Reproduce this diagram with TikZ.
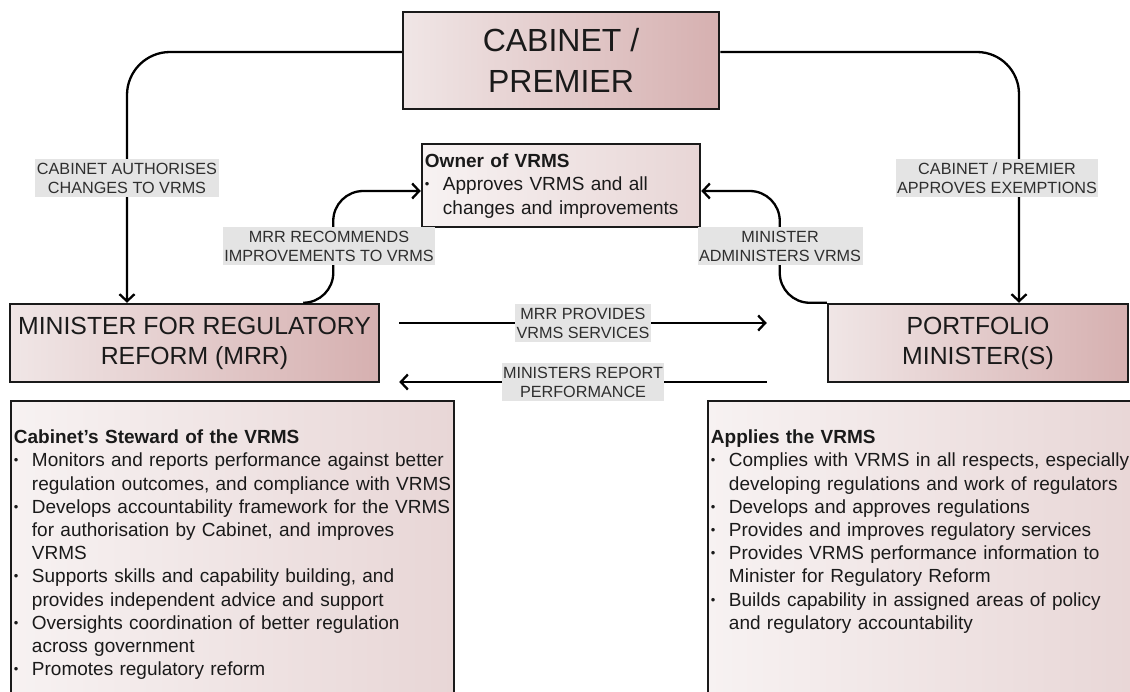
\documentclass[tikz,border=0pt]{standalone}
\usepackage{fontspec}
\setmainfont{Liberation Sans}
\usetikzlibrary{arrows.meta,calc}
\definecolor{pkL}{HTML}{F0E6E6}
\definecolor{pkR}{HTML}{D6B0B0}
\definecolor{pkL2}{HTML}{F7F2F2}
\definecolor{pkR2}{HTML}{E8D6D6}
\definecolor{lblgray}{HTML}{E4E4E4}
\definecolor{txtgray}{HTML}{2E2E2E}
\definecolor{edge}{HTML}{1A1A1A}
\newcommand{\bul}{\par\hangindent=18pt\hangafter=1\noindent\makebox[18pt][l]{\raisebox{2pt}{\fontsize{13}{13}\selectfont\textbullet}}}
\begin{document}
\begin{tikzpicture}[x=1pt,y=-1pt,
  box/.style={draw=edge, line width=2.5pt, inner sep=0pt, left color=pkL, right color=pkR, text=edge, align=center},
  softbox/.style={draw=edge, line width=2.5pt, inner sep=0pt, left color=pkL2, right color=pkR2},
  conn/.style={line width=2.3pt, draw=black, -{Straight Barb[length=7pt,width=15pt]}},
  lbl/.style={fill=lblgray, text=txtgray, font=\fontsize{16.2}{19}\selectfont, align=center, inner xsep=1.5pt, inner ysep=4pt},
  body/.style={anchor=north west, inner sep=0pt, font=\fontsize{19}{23.2}\selectfont, text=edge}
]
\useasboundingbox (0,0) rectangle (1130,691);
\clip (0,0) rectangle (1130,691);

% boxes
\node[box, minimum width=316pt, minimum height=97pt, font=\fontsize{32}{41}\selectfont] (cab) at (561,60.5) {CABINET /\\PREMIER};
\node[softbox, minimum width=278pt, minimum height=83pt] (own) at (561,185.5) {};
\node[box, minimum width=369pt, minimum height=78pt, font=\fontsize{24.8}{30}\selectfont] (mrr) at (194.5,343) {MINISTER FOR REGULATORY\\REFORM (MRR)};
\node[box, minimum width=300pt, minimum height=78pt, font=\fontsize{24.8}{30}\selectfont] (pm) at (978,343) {PORTFOLIO\\MINISTER(S)};
\node[softbox, minimum width=443pt, minimum height=319pt] (lbox) at (232.5,560.5) {};
\node[softbox, minimum width=437pt, minimum height=319pt] (rbox) at (926.5,560.5) {};

% texts in boxes
\node[body, text width=272pt] (otext) at ($(own.north west)+(4,11)$) {\raggedright\noindent\textbf{Owner of VRMS}
\bul Approves VRMS and all\newline changes and improvements\par};

\node[body, text width=445pt] (ltext) at ($(lbox.north west)+(4,30)$) {\raggedright\noindent\textbf{Cabinet’s Steward of the VRMS}
\bul Monitors and reports performance against better\newline regulation outcomes, and compliance with VRMS
\bul Develops accountability framework for the VRMS\newline for authorisation by Cabinet, and improves\newline VRMS
\bul Supports skills and capability building, and\newline provides independent advice and support
\bul Oversights coordination of better regulation\newline across government
\bul Promotes regulatory reform\par};

\node[body, text width=425pt] (rtext) at ($(rbox.north west)+(4,30)$) {\raggedright\noindent\textbf{Applies the VRMS}
\bul Complies with VRMS in all respects, especially\newline developing regulations and work of regulators
\bul Develops and approves regulations
\bul Provides and improves regulatory services
\bul Provides VRMS performance information to\newline Minister for Regulatory Reform
\bul Builds capability in assigned areas of policy\newline and regulatory accountability\par};

% connectors
\draw[conn, rounded corners=43pt] ([yshift=8.5pt]cab.west) -| ([xshift=-67.5pt]mrr.north);
\draw[conn, rounded corners=42pt] ([yshift=8.5pt]cab.east) -| ([xshift=41pt]pm.north);
\draw[conn, rounded corners=30pt] ([xshift=-77pt]mrr.north east) -- ++(30,0) |- ([yshift=-5.5pt]own.west);
\draw[conn, rounded corners=30pt] (pm.north west) -- ++(-47,0) |- ([yshift=-5.5pt]own.east);
\draw[conn] ([shift={(19,-20)}]mrr.east) -- ([shift={(-60,-20)}]pm.west) node[lbl, midway] (l3) {MRR PROVIDES\\VRMS SERVICES};
\draw[conn] ([shift={(-60,39)}]pm.west) -- ([shift={(19,39)}]mrr.east) node[lbl, midway] (l4) {MINISTERS REPORT\\PERFORMANCE};

% labels
\node[lbl] (l1) at (127,178) {CABINET AUTHORISES\\CHANGES TO VRMS};
\node[lbl] (l2) at (997,178) {CABINET / PREMIER\\APPROVES EXEMPTIONS};
\node[lbl] (l5) at (329,246) {MRR RECOMMENDS\\IMPROVEMENTS TO VRMS};
\node[lbl] (l6) at (780,246) {MINISTER\\ADMINISTERS VRMS};
\end{tikzpicture}
\end{document}
